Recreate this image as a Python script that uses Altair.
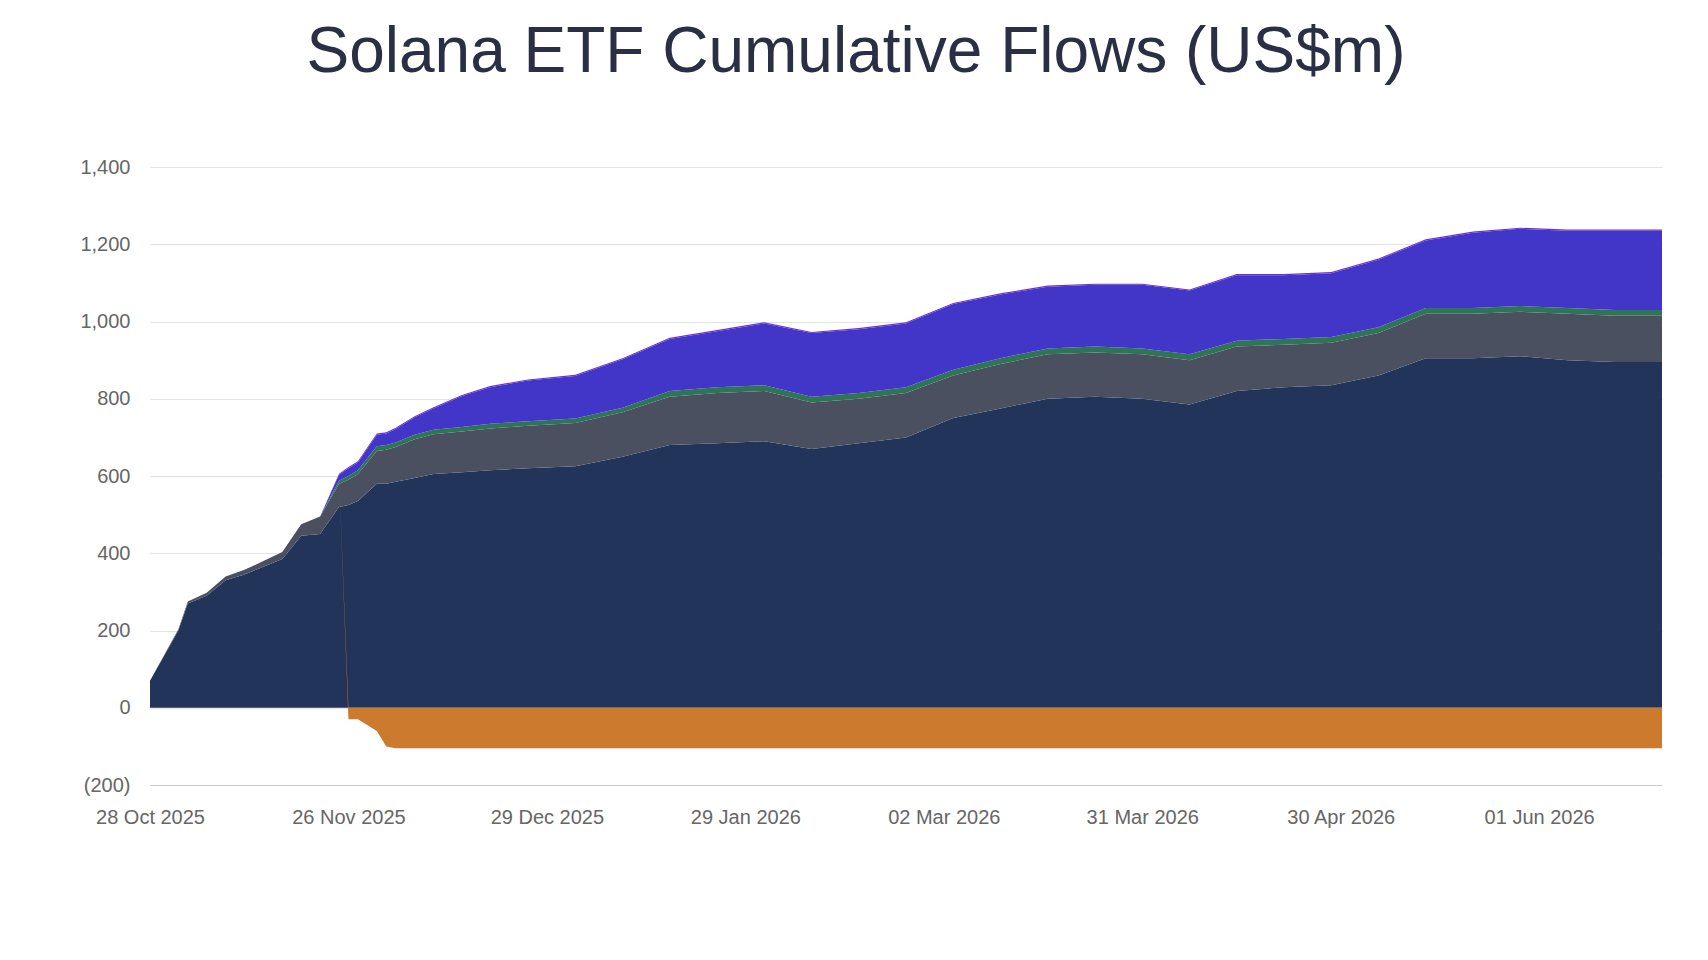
import pandas as pd
import altair as alt

# Trading-day index of each sampled point
idx = [0, 3, 4, 6, 8, 10, 12, 14, 16, 18, 20, 21, 22, 24, 25, 26, 28, 30, 33, 36,
       40, 45, 50, 55, 60, 65, 70, 75, 80, 85, 90, 95, 100, 105, 110, 115, 120, 125,
       130, 135, 140, 145, 150, 155, 160]

bitwise = [70, 200, 270, 290, 330, 345, 365, 385, 445, 450, 520, 525, 535, 580, 580, 585,
           595, 605, 610, 615, 620, 625, 650, 680, 685, 690, 670, 685, 700, 750, 775, 800,
           805, 800, 785, 820, 830, 835, 860, 905, 905, 910, 900, 895, 895]
grayscale = [0, 3, 5, 8, 10, 12, 15, 18, 30, 45, 60, 65, 70, 85, 88, 90, 100, 103, 105, 108,
             110, 112, 115, 125, 130, 130, 120, 115, 115, 110, 115, 115, 115, 115, 115, 115,
             110, 110, 110, 115, 115, 115, 120, 120, 120]
vaneck = [0] * 10 + [8, 10, 10] + [12] * 10 + [15] * 22
fidelity = [0] * 10 + [15, 20, 20, 30, 30, 35, 45, 55, 80, 95, 105, 110, 125, 135, 145, 160,
                      165, 165, 165, 170, 165, 160, 160, 165, 165, 170, 165, 165, 175, 175,
                      195, 200, 200, 205, 205]
shares21 = [0] * 11 + [-30, -30, -60, -100] + [-105] * 30
franklin = [0] * 10 + [3] * 35

series = ["Bitwise (BSOL)", "Grayscale (GSOL)", "VanEck (VSOL)", "Fidelity (FSOL)",
          "21 Shares (TSOL)", "Franklin (SOEZ)"]
colors = ["#22345a", "#4a5060", "#2e7455", "#4136c8", "#cc7a2e", "#6a2fd6"]

tick_idx = [0, 21, 42, 63, 84, 105, 126, 147]
tick_labels = ["28 Oct 2025", "26 Nov 2025", "29 Dec 2025", "29 Jan 2026",
               "02 Mar 2026", "31 Mar 2026", "30 Apr 2026", "01 Jun 2026"]

rows = []
for k, vals in enumerate([bitwise, grayscale, vaneck, fidelity, shares21, franklin]):
    for i, v in zip(idx, vals):
        rows.append({"day": i, "fund": series[k], "order": k, "flow": v})
df = pd.DataFrame(rows)

label_expr = "{" + ",".join(f"'{i}':'{l}'" for i, l in zip(tick_idx, tick_labels)) + "}[datum.value]"

font = "Liberation Sans"
chart = alt.Chart(df).mark_area(interpolate="linear").encode(
    x=alt.X("day:Q", title=None, scale=alt.Scale(domain=[0, 160], nice=False, zero=False),
            axis=alt.Axis(values=tick_idx, labelExpr=label_expr, grid=False, ticks=False,
                          domainColor="#cccccc", labelPadding=22, labelFontSize=20,
                          labelColor="#666666", labelFont=font, labelFlush=False,
                          labelAlign="center", labelOverlap=False)),
    y=alt.Y("flow:Q", stack="zero", title=None,
            scale=alt.Scale(domain=[-200, 1400], nice=False),
            axis=alt.Axis(values=list(range(-200, 1401, 200)), domain=False, ticks=False,
                          gridColor="#e3e3e3", labelFontSize=20, labelColor="#666666",
                          labelFont=font, labelPadding=20,
                          labelExpr="datum.value < 0 ? '(' + format(-datum.value, ',') + ')' : format(datum.value, ',')")),
    color=alt.Color("fund:N", sort=series,
                    scale=alt.Scale(domain=series, range=colors),
                    legend=alt.Legend(title=None, orient="none", legendX=155, legendY=855,
                                      columns=5, columnPadding=22, rowPadding=22,
                                      symbolType="M-1,-0.293H1V0.293H-1Z", symbolSize=5625,
                                      symbolStrokeWidth=0, symbolOpacity=1,
                                      labelFontSize=21, labelColor="#555555", labelFont=font,
                                      labelOffset=12, labelLimit=300)),
    order=alt.Order("order:Q"),
).properties(
    width=1512, height=618,
    autosize=alt.AutoSizeParams(type="none"),
    padding={"left": 142, "top": 159, "right": 38, "bottom": 170},
    title=alt.Title("Solana ETF Cumulative Flows (US$m)", fontSize=64, fontWeight=300,
                    font=font, color="#2a2f45", anchor="middle", offset=72, dx=-50),
).configure_view(stroke=None)

chart.save("out.html", embed_options={"renderer": "svg", "actions": False})
